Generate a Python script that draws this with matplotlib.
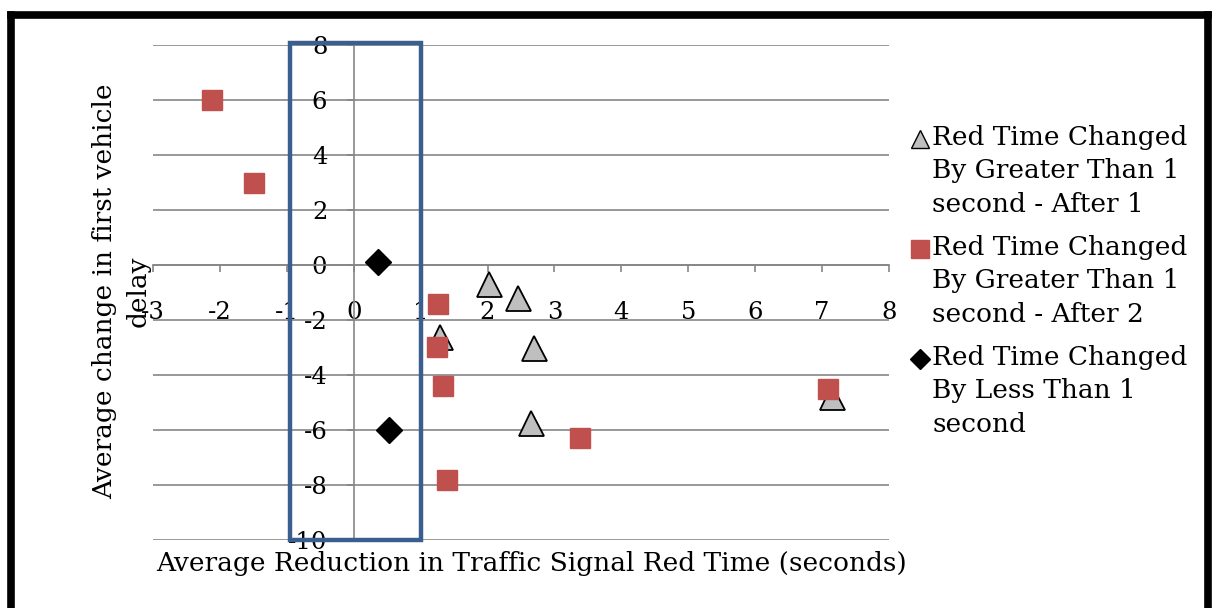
import matplotlib
matplotlib.use("Agg")
from matplotlib import pyplot as plt
from matplotlib.lines import Line2D
from matplotlib.patches import Rectangle

# series
tri_x = [2.02, 2.46, 1.29, 2.70, 2.65, 7.15]
tri_y = [-0.7, -1.2, -2.6, -3.0, -5.75, -4.8]
sq_x = [-2.12, -1.49, 1.26, 1.25, 1.34, 1.40, 3.38, 7.09]
sq_y = [6.0, 3.0, -1.42, -2.98, -4.4, -7.82, -6.3, -4.5]
dia_x = [0.36, 0.53]
dia_y = [0.1, -6.0]

labels = ["Red Time Changed\nBy Greater Than 1\nsecond - After 1",
          "Red Time Changed\nBy Greater Than 1\nsecond - After 2",
          "Red Time Changed\nBy Less Than 1\nsecond"]
xticks = list(range(-3, 9))
yticks = list(range(-10, 9, 2))

red = "#C0504D"
grey = "#BFBFBF"
axcol = "#868686"
fnt = "DejaVu Serif"

fig = plt.figure(figsize=(12.14, 6.08), dpi=100)
ax = fig.add_axes([153/1214, 1-540/608, (889-153)/1214, (540-45)/608])

ax.plot(tri_x, tri_y, ls="none", marker="^", ms=18, mfc=grey, mec="black", mew=1.3, zorder=3)
ax.plot(sq_x, sq_y, ls="none", marker="s", ms=14, mfc=red, mec=red, zorder=4)
ax.plot(dia_x, dia_y, ls="none", marker="D", ms=13.5, mfc="black", mec="black", zorder=5)

for s in ["top", "right"]:
    ax.spines[s].set_visible(False)
ax.spines["left"].set_position(("data", 0))
ax.spines["bottom"].set_position(("data", 0))
for s in ["left", "bottom"]:
    ax.spines[s].set_color(axcol)
    ax.spines[s].set_linewidth(1.2)

ax.set_xlim(-3, 8)
ax.set_ylim(-10, 8)
ax.set_xticks(xticks)
ax.set_yticks(yticks)
ax.set_xticklabels([str(v) for v in xticks])
ax.set_yticklabels([str(v) for v in yticks])
ax.tick_params(axis="x", direction="out", length=5, width=1.2, color=axcol, pad=21,
               labelsize=17.5)
ax.tick_params(axis="y", direction="out", length=5, width=1.2, color=axcol, pad=14,
               labelsize=17.5)
for lbl in ax.get_xticklabels() + ax.get_yticklabels():
    lbl.set_family(fnt)
ax.grid(axis="y", color=axcol, lw=1.2)
ax.set_axisbelow(True)

# highlight box
box = Rectangle((-0.95, -10), 1.95, 18.07, fill=False, ec="#3A5F8F", lw=3.2,
                zorder=6, clip_on=False)
ax.add_patch(box)

fig.text(0.100, 0.521, "Average change in first vehicle\ndelay", rotation=90,
         ha="center", va="center", multialignment="center", family=fnt, fontsize=19,
         linespacing=1.45)
fig.text(531/1214, 1-563/608, "Average Reduction in Traffic Signal Red Time (seconds)",
         ha="center", va="center", family=fnt, fontsize=19)

# legend drawn by hand so the marker sits on the first line
styles = [dict(marker="^", ms=13, mfc=grey, mec="black", mew=1.0),
          dict(marker="s", ms=13, mfc=red, mec=red),
          dict(marker="D", ms=10, mfc="black", mec="black")]
tops = [139, 249, 359]
for lab, st, t in zip(labels, styles, tops):
    fig.add_artist(Line2D([920/1214], [1-t/608], ls="none", **st))
    fig.text(932/1214, 1-(t-14)/608, lab, ha="left", va="top", family=fnt,
             fontsize=19, linespacing=1.42)

# outer frame (bottom edge is cut off)
fr = dict(color="black", lw=5.5, solid_capstyle="projecting")
fig.add_artist(Line2D([11/1214, 11/1214], [0, 1-15/608], **fr))
fig.add_artist(Line2D([11/1214, 1208/1214], [1-15/608, 1-15/608], **fr))
fig.add_artist(Line2D([1208/1214, 1208/1214], [0, 1-15/608], **fr))

fig.savefig("out.png", dpi=100)
